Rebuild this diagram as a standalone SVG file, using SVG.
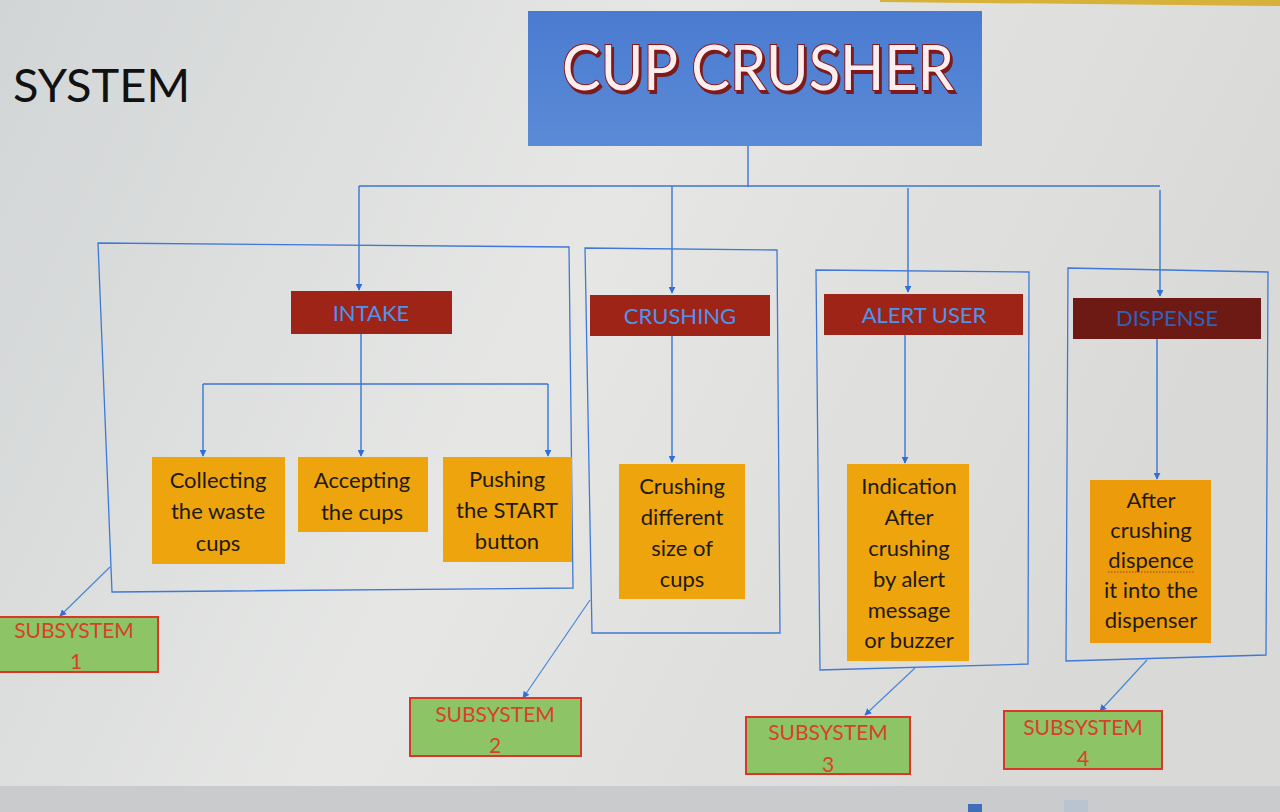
<svg xmlns="http://www.w3.org/2000/svg" width="1280" height="812" viewBox="0 0 1280 812">
<defs>
  <linearGradient id="bg" x1="0" y1="0" x2="1" y2="0.3">
    <stop offset="0" stop-color="#d2d5d6"/>
    <stop offset="0.5" stop-color="#e6e7e5"/>
    <stop offset="1" stop-color="#d9dad8"/>
  </linearGradient>
  <linearGradient id="blue" x1="0" y1="0" x2="0" y2="1">
    <stop offset="0" stop-color="#4a7bd0"/>
    <stop offset="1" stop-color="#5b8ad6"/>
  </linearGradient>
  <filter id="sh" x="-10%" y="-20%" width="120%" height="150%">
    <feDropShadow dx="2" dy="3" stdDeviation="0.6" flood-color="#7a1414" flood-opacity="0.95"/>
  </filter>
  <marker id="arr" viewBox="0 0 10 10" refX="9" refY="5" markerWidth="7" markerHeight="7" orient="auto" markerUnits="userSpaceOnUse">
    <path d="M0,0 L10,5 L0,10 z" fill="#2f6fd6"/>
  </marker>
  <style>
    .t{font-family:Lato,"Open Sans","Liberation Sans",sans-serif;}
    .con{fill:none;stroke:#3b74d4;stroke-width:1.4;}
    .arrow{fill:none;stroke:#3b74d4;stroke-width:1.4;marker-end:url(#arr);}
    .diag{fill:none;stroke:#4a86d8;stroke-width:1.2;marker-end:url(#arr);}
    .frame{fill:none;stroke:#3f78d6;stroke-width:1.3;}
    .func{fill:#9e2418;}
    .func-t{font-size:22px;fill:#4d94ee;text-anchor:middle;}
    .task{fill:#eea40c;}
    .task-t{font-size:22px;fill:#1e1a14;text-anchor:middle;}
    .sub{fill:#8dc466;stroke:#d9372a;stroke-width:2;}
    .sub-t{font-size:21px;fill:#d8402c;text-anchor:middle;}
  </style>
</defs>

<rect x="0" y="0" width="1280" height="812" fill="url(#bg)"/>
<polygon points="880,0 1280,0 1280,6 880,2" fill="#d6b23a"/>
<rect x="0" y="786" width="1280" height="26" fill="#c9cbcc"/>
<rect x="968" y="804" width="14" height="8" fill="#3f6fb8"/>
<rect x="1064" y="800" width="24" height="12" fill="#b9c4d0"/>

<text class="t" x="13" y="102" font-size="47" fill="#111">SYSTEM</text>

<g id="title">
  <rect x="528" y="11" width="454" height="135" fill="url(#blue)"/>
  <text class="t" x="758" y="90" font-size="62" fill="#fbeeee" stroke="#8a1616" stroke-width="2" paint-order="stroke" text-anchor="middle" textLength="392" lengthAdjust="spacingAndGlyphs" filter="url(#sh)">CUP CRUSHER</text>
</g>

<g id="connectors">
  <path class="con" d="M748,146 V187"/>
  <path class="con" d="M359,186 H1160"/>
  <path class="arrow" d="M359,186 V290"/>
  <path class="arrow" d="M672,186 V293"/>
  <path class="arrow" d="M908,188 V292"/>
  <path class="arrow" d="M1160,190 V296"/>
  <path class="arrow" d="M361,334 V456"/>
  <path class="con" d="M203,384 H548"/>
  <path class="arrow" d="M203,384 V456"/>
  <path class="arrow" d="M548,384 V456"/>
  <path class="arrow" d="M672,336 V462"/>
  <path class="arrow" d="M905,335 V463"/>
  <path class="arrow" d="M1157,339 V479"/>
  <path class="diag" d="M110,567 L60,616"/>
  <path class="diag" d="M590,600 L523,698"/>
  <path class="diag" d="M915,668 L865,715"/>
  <path class="diag" d="M1147,660 L1100,711"/>
</g>

<g id="frame-intake"><polygon class="frame" points="98,243 569,247 573,588 112,592"/></g>
<g id="frame-crushing"><polygon class="frame" points="585,248 777,250 780,633 592,633"/></g>
<g id="frame-alert"><polygon class="frame" points="816,270 1029,272 1028,664 820,670"/></g>
<g id="frame-dispense"><polygon class="frame" points="1068,268 1268,272 1266,655 1066,661"/></g>

<g id="intake">
  <rect class="func" x="291" y="291" width="161" height="43"/>
  <text class="t func-t" x="371" y="321">INTAKE</text>
</g>
<g id="crushing">
  <rect class="func" x="590" y="295" width="180" height="41"/>
  <text class="t func-t" x="680" y="324">CRUSHING</text>
</g>
<g id="alert-user">
  <rect class="func" x="824" y="294" width="199" height="41"/>
  <text class="t func-t" x="924" y="323">ALERT USER</text>
</g>
<g id="dispense">
  <rect x="1073" y="298" width="188" height="41" fill="#6e1a14"/>
  <text class="t func-t" x="1167" y="326" fill="#2f63b8" style="fill:#2f63b8">DISPENSE</text>
</g>

<g id="collecting">
  <rect class="task" x="152" y="457" width="133" height="107"/>
  <text class="t task-t" x="218" y="488">Collecting</text>
  <text class="t task-t" x="218" y="519">the waste</text>
  <text class="t task-t" x="218" y="551">cups</text>
</g>
<g id="accepting">
  <rect class="task" x="298" y="457" width="130" height="75"/>
  <text class="t task-t" x="362" y="488">Accepting</text>
  <text class="t task-t" x="362" y="520">the cups</text>
</g>
<g id="pushing">
  <rect class="task" x="443" y="457" width="129" height="105"/>
  <text class="t task-t" x="507" y="487">Pushing</text>
  <text class="t task-t" x="507" y="518">the START</text>
  <text class="t task-t" x="507" y="549">button</text>
</g>
<g id="crushing-task">
  <rect class="task" x="619" y="464" width="126" height="135"/>
  <text class="t task-t" x="682" y="494">Crushing</text>
  <text class="t task-t" x="682" y="525">different</text>
  <text class="t task-t" x="682" y="556">size of</text>
  <text class="t task-t" x="682" y="587">cups</text>
</g>
<g id="indication">
  <rect class="task" x="847" y="464" width="122" height="197"/>
  <text class="t task-t" x="909" y="494">Indication</text>
  <text class="t task-t" x="909" y="525">After</text>
  <text class="t task-t" x="909" y="556">crushing</text>
  <text class="t task-t" x="909" y="587">by alert</text>
  <text class="t task-t" x="909" y="618">message</text>
  <text class="t task-t" x="909" y="648">or buzzer</text>
</g>
<g id="after-crushing">
  <rect class="task" x="1090" y="480" width="121" height="163" fill="#ed9e0c" style="fill:#ec9c0b"/>
  <text class="t task-t" x="1151" y="508">After</text>
  <text class="t task-t" x="1151" y="538">crushing</text>
  <text class="t task-t" x="1151" y="568">dispence</text>
  <path d="M1108,572 H1194" stroke="#9a3b2a" stroke-width="1" stroke-dasharray="1.5,1.5"/>
  <text class="t task-t" x="1151" y="598">it into the</text>
  <text class="t task-t" x="1151" y="628">dispenser</text>
</g>

<g id="subsystem-1">
  <rect class="sub" x="-2" y="617" width="160" height="55"/>
  <text class="t sub-t" x="74" y="638">SUBSYSTEM</text>
  <text class="t sub-t" x="76" y="669">1</text>
</g>
<g id="subsystem-2">
  <rect class="sub" x="410" y="698" width="171" height="58"/>
  <text class="t sub-t" x="495" y="722">SUBSYSTEM</text>
  <text class="t sub-t" x="495" y="753">2</text>
</g>
<g id="subsystem-3">
  <rect class="sub" x="746" y="717" width="164" height="57"/>
  <text class="t sub-t" x="828" y="740">SUBSYSTEM</text>
  <text class="t sub-t" x="828" y="772">3</text>
</g>
<g id="subsystem-4">
  <rect class="sub" x="1004" y="711" width="158" height="58"/>
  <text class="t sub-t" x="1083" y="735">SUBSYSTEM</text>
  <text class="t sub-t" x="1083" y="766">4</text>
</g>
</svg>
